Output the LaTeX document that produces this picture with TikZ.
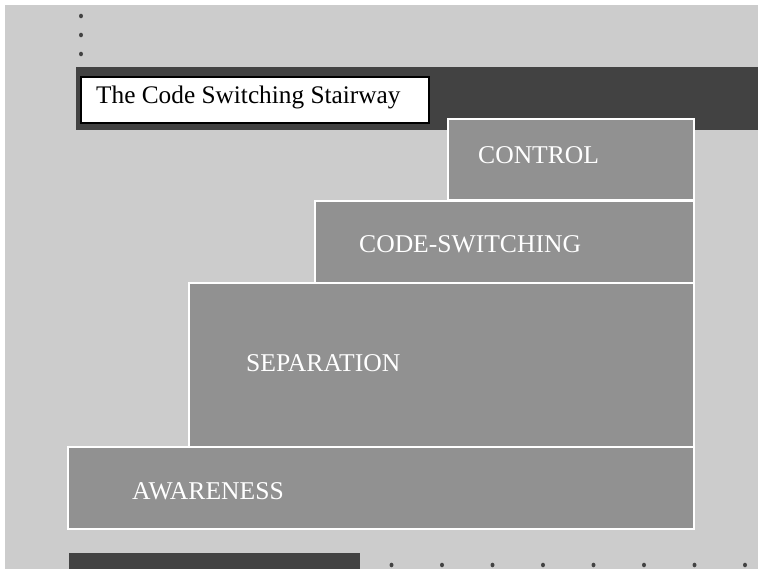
\documentclass[tikz,border=0pt]{standalone}
\usepackage{fontspec}
\usetikzlibrary{shapes.geometric}
\setmainfont{Liberation Serif}
\definecolor{bggray}{HTML}{CCCCCC}
\definecolor{dark}{HTML}{424242}
\definecolor{step}{HTML}{919191}
\begin{document}
\begin{tikzpicture}[x=1pt,y=-1pt,
  stepbox/.style={draw=white,line width=1.6pt,fill=step,anchor=north west,inner sep=0pt,minimum width=#1},
  lab/.style={anchor=base west,inner sep=0pt,text=white,font=\fontsize{25.6}{25.6}\selectfont},
  dot/.style={ellipse,fill=dark,inner sep=0pt,minimum width=4pt,minimum height=4.6pt}]
\useasboundingbox (0,0) rectangle (758,569);
\fill[white] (0,0) rectangle (758,569);
\fill[bggray] (5,5) rectangle (758,569);
% top dark band
\fill[dark] (76,67) rectangle (758,130);
% title box
\node[draw=black,line width=1.6pt,fill=white,anchor=north west,inner sep=0pt,minimum width=348pt,minimum height=46pt] (title) at (80,76) {};
\node[anchor=base west,inner sep=0pt,font=\fontsize{25.3}{25.3}\selectfont] (titletext) at (96,104) {The Code Switching Stairway};
% steps
\node[stepbox=246pt,minimum height=81pt] (control) at (447,118) {};
\node[stepbox=379pt,minimum height=82pt] (codesw) at (314,200) {};
\node[stepbox=505pt,minimum height=164pt] (separation) at (188,282) {};
\node[stepbox=626pt,minimum height=82pt] (awareness) at (67,446) {};
\node[lab] (tcontrol) at (478,164) {CONTROL};
\node[lab] (tcodesw) at (359,253) {CODE-SWITCHING};
\node[lab] (tsep) at (246,372) {SEPARATION};
\node[lab] (taware) at (132,499) {AWARENESS};
% bottom dark bar
\fill[dark] (69,553) rectangle (360,569);
% dots
\node[dot] (d1) at (81,16) {};
\node[dot] (d2) at (81,35) {};
\node[dot] (d3) at (81,54) {};
\foreach \i in {0,...,7} {
  \node[dot] (b\i) at ({391.5+50.5*\i},565) {};
}
\end{tikzpicture}
\end{document}
